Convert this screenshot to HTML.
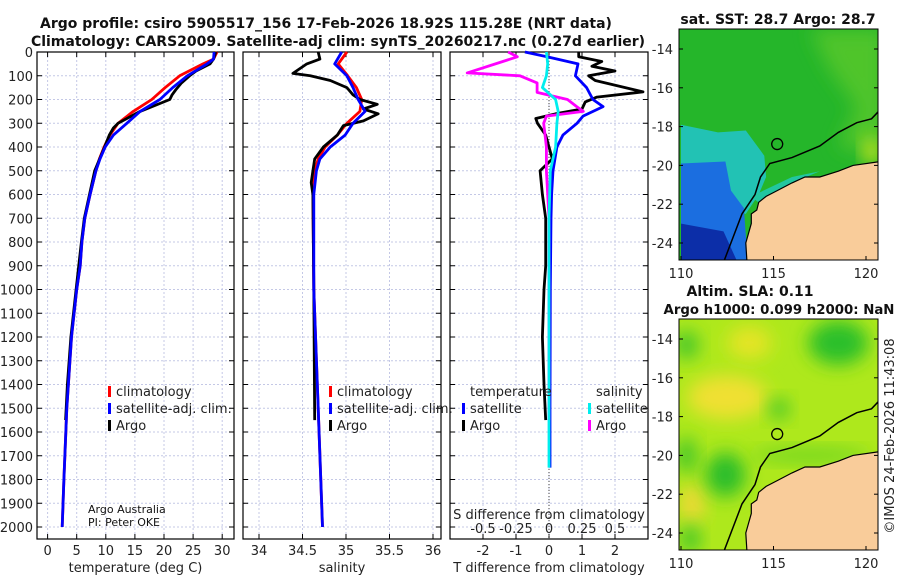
<!DOCTYPE html>
<html><head><meta charset="utf-8"><style>
body{margin:0;background:#fff;}
svg{display:block;font-family:"DejaVu Sans","Liberation Sans",sans-serif;}
.t{font-size:13px;fill:#222;}
.b{font-weight:bold;font-size:14px;fill:#111;}
</style></head><body>
<svg id="c" width="900" height="580" viewBox="0 0 900 580">
<defs>
<filter id="bl" x="-50%" y="-50%" width="200%" height="200%"><feGaussianBlur stdDeviation="9"/></filter>
<clipPath id="m1"><rect x="679" y="29" width="199" height="231"/></clipPath>
<clipPath id="m2"><rect x="679" y="319" width="199" height="231"/></clipPath>
</defs>
<text class="b" x="326" y="28" text-anchor="middle">Argo profile: csiro 5905517_156 17-Feb-2026 18.92S 115.28E (NRT data)</text>
<text class="b" x="338" y="46" text-anchor="middle">Climatology: CARS2009. Satellite-adj clim: synTS_20260217.nc (0.27d earlier)</text>
<g id="plots"></g>
<g id="maps"></g>
</svg>
<script>
// ---- data ----
const tDepth=[0,30,50,100,150,200,250,300,350,400,450,500,600,700,800,900,1000,1200,1500,1800,2000];
const tClim=[29.1,28.5,26.7,22.7,20.2,17.9,14.7,12.1,10.7,9.7,8.9,8.3,7.3,6.4,5.9,5.6,5.0,4.1,3.3,2.8,2.5];
const tSat=[28.6,28.5,27.4,24.0,21.5,19.3,15.9,13.6,11.3,9.9,9.0,8.3,7.3,6.4,5.9,5.6,5.0,4.1,3.3,2.8,2.5];
const aDepth=[0,30,50,80,100,130,160,180,200,250,300,320,350,400,500,600,700,800,1000,1200,1400,1550];
const tArgo=[28.9,28.5,27.9,25.5,24.4,23.0,22.0,21.4,21.0,15.9,12.1,11.3,10.6,9.8,8.1,7.2,6.3,5.8,4.9,4.0,3.4,3.1];
const sDepth=[0,50,100,150,200,250,300,350,400,450,500,600,1000,1500,2000];
const sClim=[35.01,34.91,35.02,35.12,35.18,35.16,35.01,34.90,34.76,34.68,34.64,34.62,34.63,34.68,34.73];
const sSat=[34.95,34.87,35.01,35.08,35.14,35.22,35.08,34.99,34.82,34.70,34.66,34.63,34.63,34.68,34.73];
const saDepth=[0,30,50,90,100,120,150,180,200,220,240,260,290,310,350,400,450,500,550,600,1000,1550];
const sArgo=[34.68,34.70,34.55,34.39,34.59,34.82,35.01,35.08,35.16,35.36,35.20,35.37,35.20,34.97,34.90,34.74,34.64,34.62,34.60,34.62,34.63,34.64];
const dDepthB=[0,20,50,100,150,200,230,270,300,350,400,500,600,700,1000,1500,1750];
const dTSat=[-0.73,-0.06,0.88,0.8,1.14,1.33,1.64,1.03,0.85,0.42,0.24,0.12,0.08,0.06,0.04,0.03,0.03];
const dDepthK=[0,20,40,60,80,100,120,168,190,210,240,260,280,300,350,400,450,500,600,700,900,1000,1200,1400,1550];
const dTArgo=[0.9,0.9,1.6,1.3,2.0,1.2,1.4,2.85,1.45,1.1,1.0,0.2,-0.4,-0.35,-0.1,0.0,0.1,-0.27,-0.2,-0.1,-0.1,-0.15,-0.2,-0.15,-0.1];
const dDepthM=[0,20,40,88,100,130,170,200,230,250,270,300,400,500,700,1000,1550];
const dSArgo=[-0.31,-0.24,-0.35,-0.62,-0.22,-0.09,-0.09,0.14,0.21,0.26,-0.02,-0.04,-0.02,-0.02,0.0,0.0,0.0];
const dDepthC=[0,50,100,150,200,250,300,400,500,700,1000,1750];
const dSSat=[-0.02,-0.01,-0.02,-0.05,0.05,0.07,0.06,0.05,0.01,0.0,0.0,0.0];
const depthTicks=[0,100,200,300,400,500,600,700,800,900,1000,1100,1200,1300,1400,1500,1600,1700,1800,1900,2000];
const tTicks=[0,5,10,15,20,25,30];
const sTicks=[34,34.5,35,35.5,36];
const dtTicks=[-2,-1,0,1,2];
const dsTicks=[-0.5,-0.25,0,0.25,0.5];
const dsTickLabels=["-0.5","-0.25","0","0.25","0.5"];
const latTicks=[-14,-16,-18,-20,-22,-24];
const lonTicks=[110,115,120];

const NS="http://www.w3.org/2000/svg";
function mk(tag,attrs,parent,txt){const e=document.createElementNS(NS,tag);for(const k in attrs)e.setAttribute(k,attrs[k]);if(txt!==undefined)e.textContent=txt;parent.appendChild(e);return e;}
const G=document.getElementById('plots');
const yS=d=>52+d*0.2375;
const PT=37,PB=539;
const panels=[
 {name:'temperature',x0:37,x1:234,xs:v=>47.6+v*5.82,ticks:tTicks,labels:tTicks.map(String),title:'temperature (deg C)',ylab:true},
 {name:'salinity',x0:243,x1:441,xs:v=>259+(v-34)*87,ticks:sTicks,labels:sTicks.map(String),title:'salinity'},
 {name:'difference',x0:450,x1:648,xs:v=>549+v*33,ticks:dtTicks,labels:dtTicks.map(String),title:'T difference from climatology'}
];
panels.forEach(p=>{
 const g=mk('g',{},G);
 
 
 depthTicks.forEach(d=>{
  const y=yS(d);
  const l=mk('line',{x1:p.x0,x2:p.x1,y1:y,y2:y,stroke:'#c4c8e6','stroke-width':1,'stroke-dasharray':'2,2'},g);
  
  
  mk('line',{x1:p.x0,x2:p.x0+5,y1:y,y2:y,stroke:'#000'},g);
  mk('line',{x1:p.x1-5,x2:p.x1,y1:y,y2:y,stroke:'#000'},g);
  if(p.ylab){const t=mk('text',{x:p.x0-4,y:y+5,'text-anchor':'end',class:'t'},g,String(d));
   
   }
 });
 p.ticks.forEach((v,i)=>{
  const x=p.xs(v);
  const l=mk('line',{x1:x,x2:x,y1:PT+15,y2:PB,stroke:'#c4c8e6','stroke-width':1,'stroke-dasharray':'2,2'},g);
  
  
  mk('line',{x1:x,x2:x,y1:PB-5,y2:PB,stroke:'#000'},g);
  mk('line',{x1:x,x2:x,y1:52,y2:57,stroke:'#000'},g);
  const t=mk('text',{x:x,y:555,'text-anchor':'middle',class:'t'},g,p.labels[i]);
  
  
 });
 const r=mk('rect',{x:p.x0,y:52,width:p.x1-p.x0,height:PB-52,fill:'none',stroke:'#000','stroke-width':1.2},g);
 
 
 const at=mk('text',{x:(p.x0+p.x1)/2,y:572,'text-anchor':'middle',class:'t'},g,p.title);
 
 
});
function line(depths,vals,xs,color,name,w){
 const pts=depths.map((d,i)=>xs(vals[i]).toFixed(1)+','+yS(d).toFixed(1)).join(' ');
 const e=mk('polyline',{points:pts,fill:'none',stroke:color,'stroke-width':w||2.8,'stroke-linejoin':'round'},G);
 
 
}
const [P1,P2,P3]=panels;
line(tDepth,tClim,P1.xs,'#ff0000','temp-climatology-line');
line(aDepth,tArgo,P1.xs,'#000','temp-argo-line');
line(tDepth,tSat,P1.xs,'#0000ff','temp-satellite-line');
line(sDepth,sClim,P2.xs,'#ff0000','sal-climatology-line');
line(saDepth,sArgo,P2.xs,'#000','sal-argo-line');
line(sDepth,sSat,P2.xs,'#0000ff','sal-satellite-line');
const zl=mk('line',{x1:549,x2:549,y1:52,y2:540,stroke:'#444','stroke-dasharray':'1,2'},G);


const dsx=v=>549+v*132;
line(dDepthK,dTArgo,P3.xs,'#000','tdiff-argo-line');
line(dDepthB,dTSat,P3.xs,'#0000ff','tdiff-satellite-line');
line(dDepthM,dSArgo,dsx,'#ff00ff','sdiff-argo-line');
line(dDepthC,dSSat,dsx,'#00eeee','sdiff-satellite-line');
const st=mk('text',{x:549,y:519,'text-anchor':'middle',class:'t'},G,'S difference from climatology');


dsTicks.forEach((v,i)=>{const t=mk('text',{x:dsx(v),y:533,'text-anchor':'middle',class:'t'},G,dsTickLabels[i]);
 
 });
function legend(x,y,items,name){
 const g=mk('g',{},G);
 
 
 items.forEach((it,i)=>{
  const yy=y+i*17;
  if(it[0])mk('rect',{x:x,y:yy-10,width:3,height:11,fill:it[0]},g);
  mk('text',{x:x+8,y:yy,class:'t'},g,it[1]);
 });
}
legend(108,396,[['#ff0000','climatology'],['#0000ff','satellite-adj. clim.'],['#000','Argo']],'temperature-legend');
legend(329,396,[['#ff0000','climatology'],['#0000ff','satellite-adj. clim.'],['#000','Argo']],'salinity-legend');
legend(462,396,[[null,'temperature'],['#0000ff','satellite'],['#000','Argo']],'tdiff-legend');
legend(588,396,[[null,'salinity'],['#00eeee','satellite'],['#ff00ff','Argo']],'sdiff-legend');
const ca=mk('text',{x:88,y:513,style:'font-size:11px',fill:'#111'},G,'Argo Australia');


const cb=mk('text',{x:88,y:526,style:'font-size:11px',fill:'#111'},G,'PI: Peter OKE');



// ---- maps ----
const M=document.getElementById('maps');
const lonX=lon=>681+(lon-110)*18.5;
const landPoly=[[113.6,-25.5],[113.5,-24],[113.8,-23],[113.8,-22.5],[114.1,-22.3],[114.2,-21.9],[114.6,-21.6],[115.2,-21.3],[116,-20.9],[116.7,-20.6],[117.5,-20.6],[118.5,-20.3],[119.3,-20.0],[120.8,-19.8],[121.5,-19.8],[121.5,-25.5]];
const shelf=[[112.3,-25],[113.3,-22.5],[114,-21.5],[114.3,-20.6],[114.8,-19.9],[116,-19.6],[117.5,-19.0],[118.5,-18.3],[119.5,-17.8],[120.3,-17.6],[120.8,-17.1]];
function map(top,lat14,clip,name,fills){
 const latY=lat=>lat14+(-14-lat)*19.4;
 const P=a=>a.map(p=>lonX(p[0]).toFixed(1)+','+latY(p[1]).toFixed(1)).join(' ');
 const g=mk('g',{},M);
 
 
 const c=mk('g',{'clip-path':'url(#'+clip+')'},g);
 fills(c,P,latY);
 mk('polygon',{points:P(landPoly),fill:'#f9cc9a'},c);
 mk('polyline',{points:P(landPoly.slice(0,14)),fill:'none',stroke:'#000','stroke-width':1.2},c);
 mk('polyline',{points:P(shelf),fill:'none',stroke:'#000','stroke-width':1.5},c);
 const ci=mk('circle',{cx:lonX(115.2),cy:latY(-18.9),r:5.5,fill:'none',stroke:'#000','stroke-width':1.3},c);
 
 
 mk('rect',{x:679,y:top,width:199,height:231,fill:'none',stroke:'#000','stroke-width':1},g);
 latTicks.forEach(l=>{const y=latY(l);
  mk('line',{x1:679,x2:683,y1:y,y2:y,stroke:'#000'},g);mk('line',{x1:874,x2:878,y1:y,y2:y,stroke:'#000'},g);
  const t=mk('text',{x:673,y:y+5,'text-anchor':'end',class:'t'},g,String(l));
  
  });
 lonTicks.forEach(l=>{const x=lonX(l);
  mk('line',{x1:x,x2:x,y1:top+227,y2:top+231,stroke:'#000'},g);
  const t=mk('text',{x:x,y:top+249,'text-anchor':'middle',class:'t'},g,String(l));
  
  });
}
map(29,49,'m1','sst-map',(c,P)=>{
 mk('rect',{x:679,y:29,width:199,height:231,fill:'#25b62a'},c);
 mk('polygon',{points:P([[117,-13],[121,-13],[121,-19.5],[118.5,-19],[119.5,-17],[118,-15]]),fill:'#4fc52b',filter:'url(#bl)'},c);
 mk('ellipse',{cx:lonX(120.3),cy:P([[0,-19.3]]).split(',')[1],rx:8,ry:14,fill:'#d8e81a',filter:'url(#bl)'},c);
 mk('polygon',{points:P([[110,-17.9],[112,-18.3],[113.5,-18.2],[114.5,-19.5],[114.6,-20.6],[114.2,-21.5],[113.5,-22.5],[112,-22.3],[110,-22]]),fill:'#22c2b4'},c);
 mk('polygon',{points:P([[113.8,-21.6],[116,-20.6],[117.5,-20.3],[116,-20.9],[114.3,-22]]),fill:'#22c6a0'},c);
 mk('polygon',{points:P([[110,-19.9],[112.4,-19.8],[112.7,-21.3],[113.4,-22.2],[113.6,-24.9],[113.5,-25.5],[110,-25.5]]),fill:'#1b6ee0'},c);
 mk('polygon',{points:P([[110,-23],[112.3,-23.4],[113.3,-25.5],[110,-25.5]]),fill:'#0c2ea8'},c);
});
map(319,339,'m2','sla-map',(c,P,latY)=>{
 mk('rect',{x:679,y:319,width:199,height:231,fill:'#aee81c'},c);
 const blobs=[[112.5,-17,40,22,'#f0e030'],[110.6,-22.5,12,20,'#f0d838'],[113.7,-14.2,22,16,'#e6e428'],[118.5,-14.2,30,22,'#2bbf2a'],[110.3,-14.3,12,14,'#3cc42a'],[112.4,-21,20,22,'#2cbd2a'],[110.3,-20,10,18,'#3cc42a'],[115.3,-17.6,10,10,'#3cc42a'],[110.5,-24.3,10,14,'#3ac32a'],[117,-20,60,7,'#6cd424']];
 blobs.forEach(b=>mk('ellipse',{cx:lonX(b[0]),cy:latY(b[1]),rx:b[2],ry:b[3],fill:b[4],filter:'url(#bl)'},c));
});
const mt=mk('text',{x:778,y:24,'text-anchor':'middle',class:'b'},M,'sat. SST: 28.7 Argo: 28.7');


const m2a=mk('text',{x:750,y:296,'text-anchor':'middle',class:'b'},M,'Altim. SLA: 0.11');


const m2b=mk('text',{x:779,y:314,'text-anchor':'middle',class:'b',style:'font-size:13.3px'},M,'Argo h1000: 0.099 h2000: NaN');


const cp=mk('text',{x:0,y:0,class:'t',transform:'translate(894,436) rotate(-90)','text-anchor':'middle'},M,'©IMOS 24-Feb-2026 11:43:08');


</script>
</body></html>
